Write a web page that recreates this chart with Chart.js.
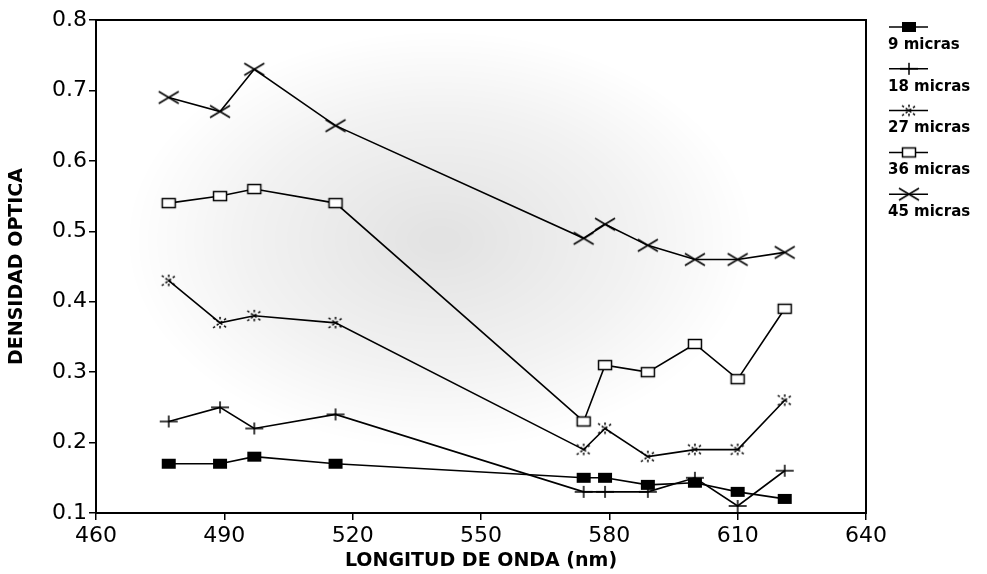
<!DOCTYPE html>
<html>
<head>
<meta charset="utf-8">
<script src="https://cdn.jsdelivr.net/npm/chart.js@4"></script>
<style>
  html, body { margin: 0; padding: 0; background: #fff; }
  #wrap { width: 987px; height: 574px; }
</style>
</head>
<body>
<div id="wrap"><canvas id="chart" width="987" height="574"></canvas></div>
<script>
// wavelengths (nm)
const wavelengths = [477, 489, 497, 516, 574, 579, 589, 600, 610, 621];

const labels = ['9 micras', '18 micras', '27 micras', '36 micras', '45 micras'];
const s9  = [0.17, 0.17, 0.18, 0.17, 0.15, 0.15, 0.14, 0.143, 0.13, 0.12];
const s18 = [0.23, 0.25, 0.22, 0.24, 0.13, 0.13, 0.13, 0.15, 0.11, 0.16];
const s27 = [0.43, 0.37, 0.38, 0.37, 0.19, 0.22, 0.18, 0.19, 0.19, 0.26];
const s36 = [0.54, 0.55, 0.56, 0.54, 0.23, 0.31, 0.30, 0.34, 0.29, 0.39];
const s45 = [0.69, 0.67, 0.73, 0.65, 0.49, 0.51, 0.48, 0.46, 0.46, 0.47];
const series = [s9, s18, s27, s36, s45];

const xTicks = [460, 490, 520, 550, 580, 610, 640];
const yTicks = [0.1, 0.2, 0.3, 0.4, 0.5, 0.6, 0.7, 0.8];

// small canvases used as point markers
function makeMarker(kind) {
    const c = document.createElement('canvas');
    c.width = 26; c.height = 16;
    const g = c.getContext('2d');
    g.strokeStyle = '#000';
    g.fillStyle = '#000';
    g.lineWidth = 1.5;
    g.beginPath();
    if (kind === 'square') {
        g.fillRect(6, 3, 14, 10);
    } else if (kind === 'plus') {
        g.moveTo(4, 8); g.lineTo(22, 8);
        g.moveTo(13, 2); g.lineTo(13, 14);
        g.stroke();
    } else if (kind === 'star') {
        g.setLineDash([2.5, 2]);
        g.moveTo(6, 3); g.lineTo(20, 13);
        g.moveTo(6, 13); g.lineTo(20, 3);
        g.moveTo(13, 2); g.lineTo(13, 14);
        g.stroke();
    } else if (kind === 'box') {
        g.fillStyle = '#fff';
        g.fillRect(6, 3, 14, 10);
        g.strokeRect(6.5, 3.5, 13, 9);
    } else if (kind === 'cross') {
        g.moveTo(3, 2); g.lineTo(23, 14);
        g.moveTo(3, 14); g.lineTo(23, 2);
        g.stroke();
    }
    return c;
}
const markers = ['square', 'plus', 'star', 'box', 'cross'].map(makeMarker);

const datasets = series.map((vals, i) => ({
    label: labels[i],
    data: vals.map((v, j) => ({ x: wavelengths[j], y: v })),
    borderColor: '#000',
    borderWidth: 1.6,
    pointStyle: markers[i],
    pointRadius: 8,
    tension: 0
}));

// faint grey shading behind the curves, plus the frame around the plot
const backdrop = {
    id: 'backdrop',
    beforeDatasetsDraw(chart) {
        const { ctx, chartArea: a } = chart;
        ctx.save();
        ctx.beginPath();
        ctx.rect(a.left, a.top, a.right - a.left, a.bottom - a.top);
        ctx.clip();
        ctx.translate(440, 240);
        ctx.scale(1.5, 1);
        const grad = ctx.createRadialGradient(0, 0, 10, 0, 0, 210);
        grad.addColorStop(0, 'rgba(0,0,0,0.11)');
        grad.addColorStop(0.6, 'rgba(0,0,0,0.05)');
        grad.addColorStop(1, 'rgba(0,0,0,0)');
        ctx.fillStyle = grad;
        ctx.fillRect(-300, -300, 600, 600);
        ctx.restore();

        ctx.save();
        ctx.strokeStyle = '#000';
        ctx.lineWidth = 2;
        ctx.strokeRect(a.left, a.top, a.right - a.left, a.bottom - a.top);
        ctx.restore();
    }
};

// legend: line sample with marker, label underneath
const sideLegend = {
    id: 'sideLegend',
    afterDraw(chart) {
        const ctx = chart.ctx;
        ctx.save();
        ctx.font = 'bold 15px "DejaVu Sans", sans-serif';
        ctx.textBaseline = 'middle';
        ctx.textAlign = 'left';
        ctx.fillStyle = '#000';
        labels.forEach((lab, i) => {
            const my = 27 + i * 41.8;
            ctx.strokeStyle = '#000';
            ctx.lineWidth = 1.5;
            ctx.beginPath();
            ctx.moveTo(889, my);
            ctx.lineTo(928, my);
            ctx.stroke();
            const m = markers[i];
            ctx.drawImage(m, 909 - m.width / 2, my - m.height / 2);
            ctx.fillText(lab, 888, my + 18);
        });
        ctx.restore();
    }
};

const tickFont = { family: '"DejaVu Sans", sans-serif', size: 22 };
const titleFont = { family: '"DejaVu Sans", sans-serif', size: 19, weight: 'bold' };

new Chart(document.getElementById('chart'), {
    type: 'line',
    data: { datasets },
    options: {
        responsive: false,
        animation: false,
        layout: { padding: { left: 6, top: 20, right: 121, bottom: 2 } },
        plugins: { legend: { display: false }, tooltip: { enabled: false } },
        scales: {
            x: {
                type: 'linear',
                min: 460, max: 640,
                afterBuildTicks: s => { s.ticks = xTicks.map(v => ({ value: v })); },
                afterFit: s => { s.height = 59; },
                grid: { drawOnChartArea: false, drawTicks: true, tickLength: 7, color: '#000', lineWidth: 1.5 },
                border: { display: false },
                ticks: { color: '#000', font: tickFont, padding: 3, maxRotation: 0 },
                title: { display: true, text: 'LONGITUD DE ONDA (nm)', color: '#000', font: titleFont, padding: { top: 0, bottom: 0 } }
            },
            y: {
                min: 0.1, max: 0.8,
                afterBuildTicks: s => { s.ticks = yTicks.map(v => ({ value: v })); },
                afterFit: s => { s.width = 90; },
                grid: { drawOnChartArea: false, drawTicks: true, tickLength: 7, color: '#000', lineWidth: 1.5 },
                border: { display: false },
                ticks: { color: '#000', font: tickFont, padding: 2, callback: v => v.toFixed(1) },
                title: { display: true, text: 'DENSIDAD OPTICA', color: '#000', font: titleFont, padding: { top: 0, bottom: 2 } }
            }
        }
    },
    plugins: [backdrop, sideLegend]
});
</script>
</body>
</html>
